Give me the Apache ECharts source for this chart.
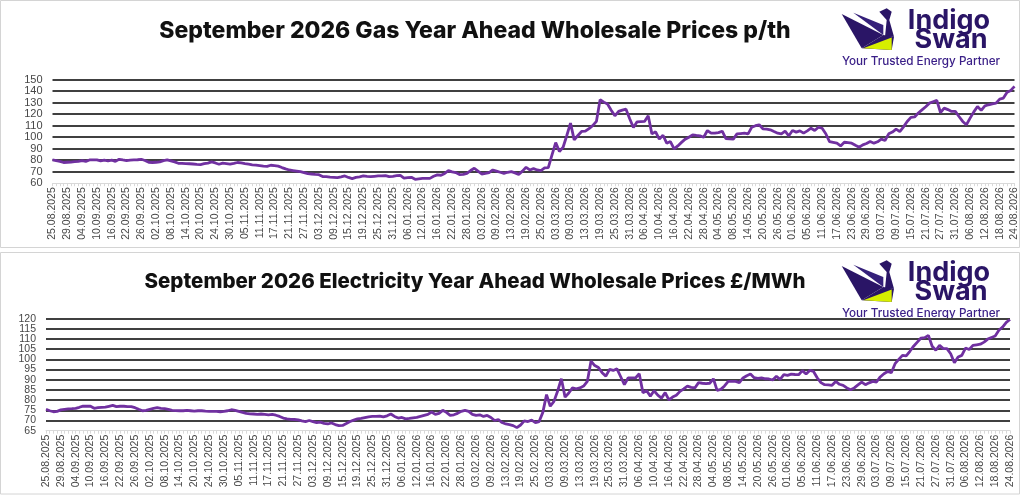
<!DOCTYPE html>
<html><head><meta charset="utf-8">
<script src="https://cdn.jsdelivr.net/npm/echarts@6/dist/echarts.min.js"></script>
<style>html,body{margin:0;padding:0;background:#fff}#c{width:1024px;height:495px}</style>
</head><body><div id="c"></div>
<script>
const gasTitle = 'September 2026 Gas Year Ahead Wholesale Prices p/th';
const elecTitle = 'September 2026 Electricity Year Ahead Wholesale Prices £/MWh';
const startDate = '2025-08-25';
const dayCount = 261;
const gasTicks = {min: 60, max: 150, interval: 10};
const elecTicks = {min: 65, max: 120, interval: 5};

const gasValues = [
80.2,79.6,79.0,78.0,78.2,78.4,78.7,79.0,79.6,79.0,
80.2,80.3,80.2,79.4,80.0,79.3,80.0,79.0,80.8,80.2,
79.7,80.0,80.2,80.4,80.8,79.7,78.2,78.0,78.2,78.6,
79.6,80.2,79.4,78.5,77.3,77.2,77.0,76.9,76.7,76.4,
76.2,77.0,77.5,78.5,77.6,76.5,77.4,77.0,76.5,77.2,
78.0,77.6,77.0,76.5,76.0,75.8,75.3,74.8,74.6,75.6,
75.2,74.8,73.6,72.5,71.5,71.0,70.5,70.0,69.2,68.3,
68.0,67.6,67.4,65.8,65.8,65.3,65.1,64.8,65.5,66.3,
65.0,64.0,65.0,65.5,66.3,65.9,65.7,66.0,66.3,66.4,
66.6,65.7,66.0,66.5,66.9,64.5,64.8,65.1,63.4,63.8,
64.2,64.2,64.2,66.0,67.2,66.9,68.5,70.9,69.8,69.2,
67.5,67.6,68.6,71.0,73.0,70.5,68.0,68.5,69.2,71.5,
70.5,69.5,68.6,69.5,70.0,69.0,67.7,70.5,73.8,71.5,
72.7,71.5,70.9,73.3,73.5,84.6,95.3,87.5,91.3,101.5,
112.2,97.7,101.5,105.0,105.2,107.5,110.0,113.7,132.6,130.5,
128.8,123.5,118.6,122.4,123.5,124.4,116.0,108.4,113.4,113.6,
113.7,118.6,102.9,104.7,98.3,101.7,94.8,96.2,89.8,92.4,
95.5,98.3,100.0,102.0,101.5,101.2,100.0,105.8,103.5,103.5,
104.0,105.2,98.8,98.5,98.3,102.9,103.2,103.5,102.9,108.7,
110.0,110.8,107.3,107.0,106.4,104.9,103.5,102.9,105.2,101.2,
105.8,104.4,105.5,103.5,105.5,107.8,105.8,108.7,107.8,103.0,
96.2,95.5,94.8,92.4,95.6,95.2,94.8,93.0,91.3,93.3,
94.5,96.2,94.8,96.0,98.3,97.1,102.9,104.5,107.0,104.9,
109.0,113.7,117.2,117.6,121.0,123.8,126.5,129.6,130.8,132.0,
121.5,125.3,124.0,122.4,122.4,118.0,113.7,110.8,116.6,122.0,
126.7,123.3,127.3,128.2,129.0,129.6,133.1,134.0,139.0,140.7,144.2
];

const elecValues = [
75.5,74.8,74.3,74.5,75.2,75.5,75.7,75.8,76.0,76.5,
77.1,77.0,77.0,76.0,76.3,76.5,76.6,77.0,77.4,76.8,
77.0,77.0,76.8,76.8,76.3,75.5,74.8,75.0,75.5,76.0,
76.3,76.0,75.8,75.5,75.0,74.9,74.8,74.8,75.0,74.8,
74.6,74.8,74.8,74.6,74.5,74.5,74.5,74.3,74.5,74.8,
75.3,75.0,74.5,74.0,73.5,73.3,73.2,73.0,73.2,73.0,
72.8,73.0,72.6,72.0,71.2,70.8,70.6,70.5,70.3,69.8,
69.5,70.0,69.5,69.0,69.2,68.6,68.3,68.8,68.0,67.5,
67.6,68.5,69.5,70.2,70.8,71.0,71.4,71.8,72.0,72.0,
72.2,71.8,72.3,73.2,72.0,71.2,71.5,70.8,71.0,71.3,
71.5,72.0,72.5,73.0,74.2,73.0,73.5,75.0,74.0,72.5,
72.8,73.5,74.5,75.0,74.5,73.0,72.5,72.8,72.0,72.5,
71.5,70.0,70.5,69.0,68.3,68.0,67.5,66.5,67.8,69.8,
69.5,70.2,69.0,69.5,74.0,82.7,77.0,79.4,84.5,90.5,
81.5,83.5,86.0,85.6,86.0,86.9,89.2,99.2,97.0,96.0,
93.5,91.8,95.1,94.6,95.4,91.5,87.6,90.9,90.9,90.9,
93.0,83.7,84.6,82.0,84.6,82.5,81.0,83.7,80.1,81.5,
82.4,84.3,85.5,86.9,86.3,86.0,88.6,88.3,88.1,88.3,
90.5,84.8,85.3,87.0,89.2,89.2,89.2,88.6,90.9,92.0,
92.8,91.0,90.7,90.9,90.5,90.4,89.9,91.7,90.2,92.5,
92.2,92.8,92.6,92.5,94.5,92.8,94.6,94.1,91.0,88.6,
87.6,87.5,87.3,89.2,87.8,87.3,86.0,85.1,86.0,87.5,
88.9,87.6,88.5,89.2,88.9,91.4,93.0,94.1,93.5,97.9,
100.0,102.0,101.7,104.0,106.5,108.5,110.5,110.7,111.8,106.5,
104.5,106.9,105.3,105.3,102.8,98.4,101.2,102.0,105.6,104.9,
106.9,107.2,107.5,108.5,110.0,110.8,111.5,114.3,115.9,118.2,119.6
];

function weekdayLabels(start, n) {
  const out = [];
  const d = new Date(start + 'T12:00:00Z');
  while (out.length < n) {
    const wd = d.getUTCDay();
    if (wd !== 0 && wd !== 6) {
      const dd = String(d.getUTCDate()).padStart(2, '0');
      const mm = String(d.getUTCMonth() + 1).padStart(2, '0');
      out.push(dd + '.' + mm + '.' + d.getUTCFullYear());
    }
    d.setUTCDate(d.getUTCDate() + 1);
  }
  return out;
}
const categories = weekdayLabels(startDate, dayCount);

const PURPLE = '#7030a0';
const GRID = '#404040';
const LABEL_FONT = '"Liberation Sans", Arial, sans-serif';

function splitColors(t) {
  const n = Math.round((t.max - t.min) / t.interval) + 1;
  const arr = ['rgba(0,0,0,0)'];
  for (let i = 1; i < n; i++) arr.push(GRID);
  return arr;
}

function logo(dy) {
  const dark = '#2a1566';
  return [
    {type: 'polygon', shape: {points: [[841.7, 14 + dy], [883.3, 35 + dy], [861.7, 48.3 + dy]]}, style: {fill: dark}},
    {type: 'polygon', shape: {points: [[853.3, 12.7 + dy], [883.3, 25 + dy], [883.3, 35 + dy]]}, style: {fill: '#35207a'}},
    {type: 'polygon', shape: {points: [[879.3, 11.7 + dy], [886.7, 8.3 + dy], [891.7, 11.7 + dy], [889.3, 20 + dy], [894, 36.7 + dy], [885, 36.7 + dy], [886.7, 20 + dy]]}, style: {fill: dark}},
    {type: 'polygon', shape: {points: [[883.3, 35 + dy], [894, 36.7 + dy], [891.7, 50 + dy], [861.7, 48.3 + dy]]}, style: {fill: dark}},
    {type: 'polygon', shape: {points: [[863.3, 48.3 + dy], [891.7, 37.5 + dy], [891.7, 50 + dy]]}, style: {fill: '#d7ef00'}},
    {type: 'text', style: {text: 'Indigo', x: 949, y: 21 + dy, textAlign: 'center', textVerticalAlign: 'middle', font: '700 27px Inter, "Noto Sans", sans-serif', fill: dark}},
    {type: 'text', style: {text: 'Swan', x: 951, y: 40 + dy, textAlign: 'center', textVerticalAlign: 'middle', font: '700 27px Inter, "Noto Sans", sans-serif', fill: dark}},
    {type: 'text', style: {text: 'Your Trusted Energy Partner', x: 921, y: 61 + dy, textAlign: 'center', textVerticalAlign: 'middle', font: '500 11.7px Inter, "Noto Sans", sans-serif', fill: '#3b2088'}}
  ];
}

function xAxis(gridIndex) {
  return {
    type: 'category', gridIndex, data: categories, boundaryGap: false,
    axisLine: {lineStyle: {color: '#d9d9d9', width: 1}},
    axisTick: {show: true, interval: 0, length: 3, lineStyle: {color: '#d9d9d9'}},
    axisLabel: {rotate: 90, interval: 3, fontSize: 10.5, color: '#474747', margin: 4, fontFamily: LABEL_FONT},
    splitLine: {show: false}
  };
}
function yAxis(gridIndex, t) {
  return {
    type: 'value', gridIndex, min: t.min, max: t.max, interval: t.interval,
    axisLine: {show: false}, axisTick: {show: false},
    axisLabel: {show: false},
    splitLine: {show: true, lineStyle: {color: splitColors(t), width: 1.8}}
  };
}

const grids = [
  {left: 52.5, right: 9.5, top: 79.7, height: 103.5},
  {left: 46, right: 14, top: 318.7, height: 112}
];

const baseGraphic = [
  {type: 'rect', shape: {x: 0.5, y: 0.5, width: 1019, height: 247}, style: {fill: 'none', stroke: '#d4d4d4', lineWidth: 1}, z: -1},
  {type: 'rect', shape: {x: 0.5, y: 252.5, width: 1019, height: 241.5}, style: {fill: 'none', stroke: '#d4d4d4', lineWidth: 1}, z: -1},
  {type: 'text', style: {text: gasTitle, x: 475, y: 31, textAlign: 'center', textVerticalAlign: 'middle', font: '800 23px Inter, "Noto Sans", sans-serif', fill: '#111111'}},
  {type: 'text', style: {text: elecTitle, x: 475, y: 282, textAlign: 'center', textVerticalAlign: 'middle', font: '800 20.5px Inter, "Noto Sans", sans-serif', fill: '#111111'}}
].concat(logo(0), logo(252));

const chart = echarts.init(document.getElementById('c'), null, {renderer: 'canvas'});
chart.setOption({
  backgroundColor: '#ffffff',
  animation: false,
  grid: grids,
  xAxis: [xAxis(0), xAxis(1)],
  yAxis: [yAxis(0, gasTicks), yAxis(1, elecTicks)],
  series: [
    {type: 'line', xAxisIndex: 0, yAxisIndex: 0, data: gasValues, showSymbol: false, lineStyle: {color: PURPLE, width: 2.8}, itemStyle: {color: PURPLE}},
    {type: 'line', xAxisIndex: 1, yAxisIndex: 1, data: elecValues, showSymbol: false, lineStyle: {color: PURPLE, width: 2.8}, itemStyle: {color: PURPLE}}
  ],
  graphic: baseGraphic
});

// y-axis tick labels placed through the axis scale (avoids automatic overlap hiding)
const tickLabels = [];
[[0, gasTicks, 11], [1, elecTicks, 10.5]].forEach(([idx, t, fs]) => {
  for (let v = t.min; v <= t.max; v += t.interval) {
    const y = chart.convertToPixel({yAxisIndex: idx}, v);
    tickLabels.push({type: 'text', style: {text: String(v), x: grids[idx].left - 10, y: y, textAlign: 'right', textVerticalAlign: 'middle', font: fs + 'px ' + LABEL_FONT, fill: '#474747'}});
  }
});
chart.setOption({graphic: baseGraphic.concat(tickLabels)});
</script>
</body></html>
